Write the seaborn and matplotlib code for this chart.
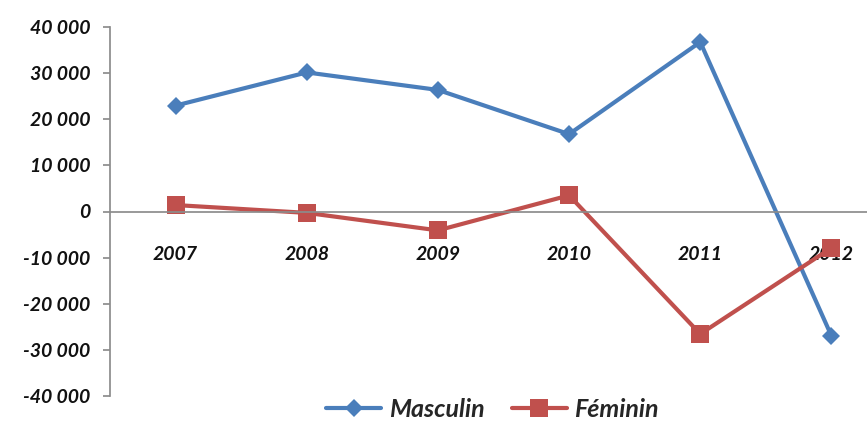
import pandas as pd
import matplotlib.pyplot as plt
import matplotlib.ticker as mticker
import seaborn as sns

# Données
annees = ['2007', '2008', '2009', '2010', '2011', '2012']
masculin = [23000, 30200, 26400, 16800, 36800, -27000]
feminin = [1400, -300, -4100, 3500, -26600, -7900]

df = pd.DataFrame({
    'Année': annees * 2,
    'Valeur': masculin + feminin,
    'Sexe': ['Masculin'] * len(annees) + ['Féminin'] * len(annees),
})

sns.set_theme(style="white")
plt.rcParams['font.family'] = ['Lato', 'DejaVu Sans']

fig = plt.figure(figsize=(8.67, 4.24), dpi=100)
ax = fig.add_axes([110 / 867, 28.3 / 424, 787 / 867, 368.4 / 424])

couleurs = {'Masculin': '#4A7EBB', 'Féminin': '#C0504D'}
sns.lineplot(data=df, x='Année', y='Valeur', hue='Sexe', style='Sexe',
             palette=couleurs, markers={'Masculin': 'D', 'Féminin': 's'},
             dashes=False, linewidth=3, ax=ax, sort=False)
for line in ax.lines:
    if line.get_marker() == 's':
        line.set_markersize(13)
    else:
        line.set_markersize(9.5)
    line.set_markeredgewidth(0)

ax.set_xlim(-0.5, 5.5)
ax.set_ylim(-40000, 40000)
ax.yaxis.set_major_locator(mticker.MultipleLocator(10000))
ax.yaxis.set_major_formatter(mticker.FuncFormatter(lambda v, p: f"{v:,.0f}".replace(",", " ")))
ax.set_xlabel('')
ax.set_ylabel('')

for s in ['top', 'right']:
    ax.spines[s].set_visible(False)
ax.spines['bottom'].set_position(('data', 0))
ax.spines['bottom'].set_color('#8C8C8C')
ax.spines['left'].set_color('#8C8C8C')

ax.set_xticks(range(len(annees)))
ax.set_xticklabels(annees)
ax.set_xticks([i - 0.5 for i in range(len(annees) + 1)], minor=True)
ax.tick_params(axis='x', which='major', length=0, pad=25)
ax.tick_params(axis='x', which='minor', length=5, color='#8C8C8C', direction='out')
ax.tick_params(axis='y', length=5, color='#8C8C8C', direction='out', pad=9, left=True)
for lab in ax.get_xticklabels() + ax.get_yticklabels():
    lab.set_fontsize(14)
    lab.set_fontweight('bold')
    lab.set_fontstyle('italic')
    lab.set_color('#111111')

ax.legend_.remove()
handles, labels = ax.get_legend_handles_labels()
fig.legend(handles, labels, loc='lower center', bbox_to_anchor=(0.568, -0.045), ncol=2,
           frameon=False, handlelength=2.2, columnspacing=1.1, handletextpad=0.3,
           prop={'size': 18, 'weight': 'bold', 'style': 'italic'})

fig.savefig('out.png', dpi=100)
